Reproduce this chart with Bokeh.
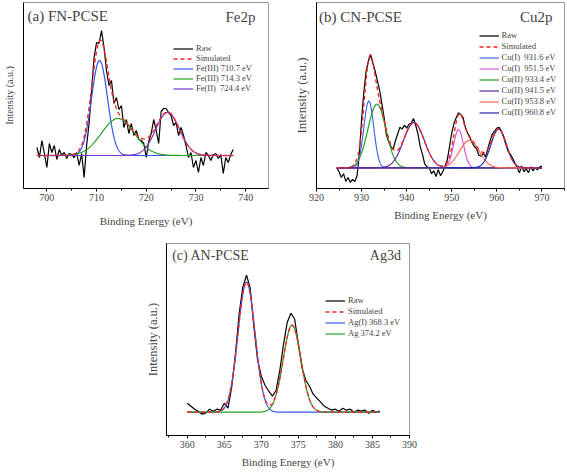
import numpy as np
from bokeh.plotting import figure
from bokeh.layouts import column, row
from bokeh.models import Legend, LegendItem, Label, FixedTicker, SingleIntervalTicker, Range1d
from bokeh.embed import file_html
from bokeh.resources import INLINE

FONT = "Liberation Serif"

# ---------------- data ----------------
# Panel (a) FN-PCSE, Fe2p  (raw spectrum sampled every 0.5 eV, baseline-subtracted, arbitrary units)
a_start, a_step = 698.0, 0.5
a_raw = [8, -2, 15, 2, -12, 12, 3, 10, -4, 6, 0, 3, -3, 2, 1, -2, 3, -10, 2, -22,
         10, 32, 65, 98, 113, 112, 125, 108, 85, 70, 75, 52, 58, 46, 50, 28, 36, 22, 32, 20,
         25, 16, 15, 12, -2, 14, 22, 36, 25, 12, 44, 47, 47, 43, 40, 30, 33, 20, 28, 20,
         10, -2, 3, -12, -5, -17, -2, -10, 3, 0, -5, 1, 2, -3, 1, -18, -2, -7, 1, 6]
a_labels = ["Fe(III) 710.7 eV", "Fe(III) 714.3 eV", "Fe(II)  724.4 eV"]
a_centers = [710.6, 714.3, 724.3]
a_heights = [95, 37, 43]
a_sigmas = [1.6, 3.3, 2.4]

# Panel (b) CN-PCSE, Cu2p
b_start, b_step = 924.5, 0.5
b_raw = [0, -4, -10, -6, -14, -10, -15, -12, -14, -8, 14, 50, 78, 100, 110, 117, 108, 100, 90, 80,
         66, 52, 34, 27, 22, 19, 28, 35, 42, 40, 44, 41, 45, 46, 51, 44, 35, 22, 14, 4,
         1, 0, -6, -3, -9, -2, -8, -4, 2, 8, 22, 36, 46, 52, 57, 55, 52, 42, 36, 32,
         26, 22, 20, 13, 12, 15, 11, 20, 28, 35, 38, 41, 42, 38, 32, 24, 17, 14, 10, 5,
         0, -5, 2, -4, -1, -5, 1, -3, 0, -2, 1, 2]
b_labels = ["Cu(I)  931.6 eV", "Cu(I)  951.5 eV", "Cu(II) 933.4 eV",
            "Cu(II) 941.5 eV", "Cu(II) 953.8 eV", "Cu(II) 960.8 eV"]
b_centers = [931.6, 951.5, 933.4, 941.6, 953.9, 960.4]
b_heights = [69, 39.5, 65.7, 46.7, 28.3, 40]
b_sigmas = [1.1, 1.1, 2.0, 2.3, 2.2, 1.7]

# Panel (c) AN-PCSE, Ag3d
c_start, c_step = 360.0, 0.5
c_raw = [9, 6, 3, 1, -2, -1, 3, 1, 3, 2, 9, 4, 25, 58, 98, 125, 137, 124, 85, 52,
         36, 27, 21, 16, 22, 42, 68, 90, 99, 93, 68, 44, 32, 26, 18, 14, 10, 6, 4, 2,
         3, 1, 4, 2, 3, 0, 2, 1, 2, -1, 2, 0, 1]
c_labels = ["Ag(I) 368.3 eV", "Ag 374.2 eV"]
c_centers = [368.0, 374.15]
c_heights = [130, 87]
c_sigmas = [1.15, 1.2]

xticks_interval = {"a": 10, "b": 10, "c": 5}

# ---------------- styles ----------------
a_colors = ["#3355EE", "#22A022", "#7733CC"]
b_colors = ["#4466EE", "#DD55DD", "#22A022", "#5522AA", "#FF6655", "#2222AA"]
c_colors = ["#3355EE", "#22A022"]


def make_panel(key, start, step, raw, centers, heights, sigmas, colors, labels,
               xr, yr, width, height, borders, title, element, ylab_size, ylab_standoff,
               xlab_standoff, title_size, title_pos, elem_pos, leg_loc, leg_spacing):
    left, right, top, bottom = borders
    p = figure(width=width, height=height, output_backend="svg", toolbar_location=None,
               x_range=Range1d(*xr), y_range=Range1d(*yr),
               min_border_left=left, min_border_right=right,
               min_border_top=top, min_border_bottom=bottom)
    p.background_fill_color = "white"
    p.border_fill_color = "white"
    p.outline_line_color = "#9a9a9a"
    p.outline_line_width = 1
    p.xgrid.visible = False
    p.ygrid.visible = False

    energies = start + step * np.arange(len(raw))
    fine = np.linspace(energies[0], energies[-1], 600)
    comps = [h * np.exp(-(fine - c) ** 2 / (2 * s ** 2)) for c, h, s in zip(centers, heights, sigmas)]
    sim = np.sum(comps, axis=0)

    r_raw = p.line(energies, raw, line_color="black", line_width=1.2)
    r_comps = []
    for comp, col in zip(comps, colors):
        r_comps.append(p.line(fine, comp, line_color=col, line_width=1.2))
    r_sim = p.line(fine, sim, line_color="#FF2020", line_width=1.4, line_dash="4 3")

    items = [LegendItem(label="Raw", renderers=[r_raw]),
             LegendItem(label="Simulated", renderers=[r_sim])]
    items += [LegendItem(label=lab, renderers=[r]) for lab, r in zip(labels, r_comps)]
    leg = Legend(items=items, location=leg_loc, background_fill_alpha=0,
                 border_line_alpha=0, padding=0, margin=0, spacing=leg_spacing,
                 label_text_font=FONT, label_text_font_size="8.5px",
                 glyph_width=20, glyph_height=9, label_height=9, label_standoff=3)
    p.add_layout(leg)

    # axes
    p.xaxis.ticker = SingleIntervalTicker(interval=xticks_interval[key], num_minor_ticks=2)
    p.xaxis.axis_label = "Binding Energy (eV)"
    p.xaxis.axis_label_text_font = FONT
    p.xaxis.axis_label_text_font_style = "normal"
    p.xaxis.axis_label_text_font_size = "11px"
    p.xaxis.axis_label_standoff = xlab_standoff
    p.xaxis.major_label_text_font = FONT
    p.xaxis.major_label_text_font_size = "10px"
    p.xaxis.major_label_standoff = 2
    p.xaxis.major_tick_in = 0
    p.xaxis.major_tick_out = 3
    p.xaxis.minor_tick_in = 0
    p.xaxis.minor_tick_out = 2
    p.xaxis.axis_line_color = "black"

    p.yaxis.ticker = FixedTicker(ticks=[])
    p.yaxis.major_tick_out = 0
    p.yaxis.major_tick_in = 0
    p.yaxis.minor_tick_out = 0
    p.yaxis.minor_tick_in = 0
    p.yaxis.axis_label = "Intensity (a.u.)"
    p.yaxis.axis_label_text_font = FONT
    p.yaxis.axis_label_text_font_style = "normal"
    p.yaxis.axis_label_text_font_size = ylab_size
    p.yaxis.axis_label_standoff = ylab_standoff
    p.yaxis.axis_line_color = "black"

    p.add_layout(Label(x=xr[0], y=yr[1], x_offset=title_pos[0], y_offset=-title_pos[1],
                       text=title, text_font=FONT, text_font_size=title_size,
                       text_baseline="middle", text_align="left"))
    p.add_layout(Label(x=xr[1], y=yr[1], x_offset=-elem_pos[0], y_offset=-elem_pos[1],
                       text=element, text_font=FONT, text_font_size=title_size,
                       text_baseline="middle", text_align="right"))
    return p


pa = make_panel("a", a_start, a_step, a_raw, a_centers, a_heights, a_sigmas, a_colors, a_labels,
                (695.3, 744.6), (-33, 153), 280, 230, (22, 12, 2, 42),
                "(a) FN-PCSE", "Fe2p", "10px", 9, 11, "15px", (4, 13), (13, 14.5), (150, 95), 0)
pb = make_panel("b", b_start, b_step, b_raw, b_centers, b_heights, b_sigmas, b_colors, b_labels,
                (920, 975), (-21.3, 170.7), 285, 230, (36, 1, 1, 37),
                "(b) CN-PCSE", "Cu2p", "13px", 8, 5, "15px", (2.6, 14), (12, 14), (162.6, 71), 1)
pc = make_panel("c", c_start, c_step, c_raw, c_centers, c_heights, c_sigmas, c_colors, c_labels,
                (357.2, 390), (-23.3, 168.7), 430, 240, (166, 21, 13, 35),
                "(c) AN-PCSE", "Ag3d", "12.5px", 7, 5, "14px", (5.7, 12), (8.6, 12), (159, 97), 1)

layout = column(row(pa, pb), pc)
open("out.html", "w").write(file_html(layout, INLINE))
